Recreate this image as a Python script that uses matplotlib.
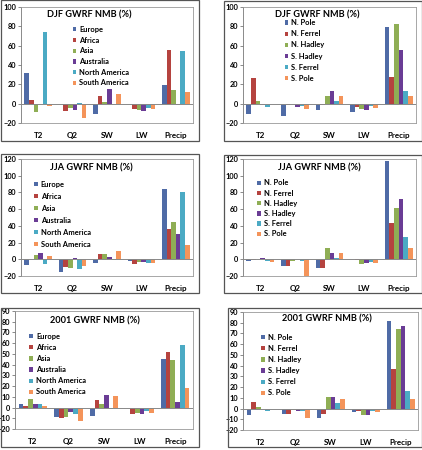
import matplotlib
matplotlib.use("Agg")
import matplotlib.pyplot as plt
import numpy as np
from matplotlib.patches import Rectangle

plt.rcParams['font.family'] = ['Lato', 'DejaVu Sans']
plt.rcParams['font.weight'] = 'bold'

categories = ['T2', 'Q2', 'SW', 'LW', 'Precip']
regions = ['Europe', 'Africa', 'Asia', 'Australia', 'North America', 'South America']
cells = ['N. Pole', 'N. Ferrel', 'N. Hadley', 'S. Hadley', 'S. Ferrel', 'S. Pole']

# one row per series, values over categories
djf_regions = [[32, 0, -11, 0, 19],
               [4, -8, 8, -5, 56],
               [-9, -4, 2, -7, 14],
               [0, -7, 15, -8, -1],
               [74, 1, 0, -4, 54],
               [-2, -15, 10, -5, 12]]
djf_cells = [[-11, -13, -7, -9, 79],
             [27, -1, -1, -3, 28],
             [3, 0, 8, -5, 82],
             [-1, -3, 13, -7, 56],
             [-3, -2, 3, -2, 13],
             [0, -5, 8, -4, 8]]
jja_regions = [[-7, -15, -5, -2, 84],
               [0, -9, 6, -6, 36],
               [5, -10, 6, -3, 45],
               [7, 1, 3, -3, 30],
               [-6, -12, -1, -4, 81],
               [4, -8, 10, -5, 17]]
jja_cells = [[-2, -8, -10, 0, 118],
             [-1, -8, -10, -1, 44],
             [0, -2, 13, -6, 61],
             [2, 0, 7, -5, 72],
             [-2, -2, 1, -3, 27],
             [-3, -20, 8, -4, 14]]
y2001_regions = [[3, -9, -8, 0, 45],
                 [1, -10, 7, -6, 52],
                 [8, -9, 3, -5, 44],
                 [3, -4, 12, -6, 5],
                 [3, -6, -1, -3, 58],
                 [1, -13, 11, -5, 18]]
y2001_cells = [[-6, -5, -9, -3, 82],
               [6, -5, -5, -2, 37],
               [1, -1, 11, -6, 74],
               [0, -2, 11, -6, 77],
               [-2, -2, 5, -2, 16],
               [0, -9, 9, -3, 9]]

colors = ['#4F6BA6', '#B5433F', '#8FAE55', '#6A3C95', '#4BAAC4', '#F4945A']

W, H = 422, 450
fig = plt.figure(figsize=(W / 100, H / 100), dpi=100)


def frame(x0, y0, x1, y1):
    fig.add_artist(Rectangle((x0 / W, 1 - y1 / H), (x1 - x0) / W, (y1 - y0) / H,
                             transform=fig.transFigure, fill=False,
                             edgecolor='#555555', lw=0.9))


def panel(box, title, tpos, names, data, ylim, step, leg, spacing):
    l, t, r, b = box
    ax = fig.add_axes([l / W, 1 - b / H, (r - l) / W, (b - t) / H])
    x = np.arange(len(categories))
    w = 0.8 / len(names)
    for i, (name, vals) in enumerate(zip(names, data)):
        ax.bar(x + (i - 2.5) * w, vals, w, color=colors[i], label=name, zorder=2)
    ax.axhline(0, color='#888888', lw=0.7, zorder=3)
    ax.set_xlim(-0.5, len(categories) - 0.5)
    ax.set_ylim(*ylim)
    ax.set_yticks(np.arange(ylim[0], ylim[1] + 1, step))
    ax.set_xticks(x, categories)
    ax.tick_params(axis='x', length=0, pad=6.5, labelsize=5.8)
    ax.tick_params(axis='y', length=2, width=0.6, pad=1.2, labelsize=5.3,
                   color='#777777')
    for s in ax.spines.values():
        s.set_color('#999999')
        s.set_linewidth(0.6)
    ax.spines['left'].set_color('#777777')
    ax.text(tpos[0], tpos[1], title, transform=ax.transAxes, ha='center',
            va='center', fontsize=6.6, fontweight='bold')
    ax.legend(loc='upper left', bbox_to_anchor=leg, frameon=False,
              fontsize=5.4, handlelength=0.5, handleheight=0.5,
              handletextpad=0.4, labelspacing=spacing, borderpad=0,
              borderaxespad=0)
    return ax


frame(0.5, 0.5, 199, 141)
frame(224, 1, 421.5, 141)
frame(0.5, 154, 199, 293)
frame(224, 155, 421.5, 293)
frame(0.5, 308, 199, 447)
frame(228, 308, 421.5, 447)

panel((21, 7, 193, 123), 'DJF GWRF NMB (%)', (0.40, 0.93), regions,
      djf_regions, (-20, 100), 20, (0.30, 0.836), 0.49)
panel((243, 7, 416, 123), 'DJF GWRF NMB (%)', (0.43, 0.935), cells,
      djf_cells, (-20, 100), 20, (0.24, 0.895), 0.55)
panel((21, 159, 193, 276), 'JJA GWRF NMB (%)', (0.41, 0.92), regions,
      jja_regions, (-20, 120), 20, (0.075, 0.816), 0.67)
panel((243, 159, 416, 276), 'JJA GWRF NMB (%)', (0.44, 0.92), cells,
      jja_cells, (-20, 120), 20, (0.08, 0.826), 0.43)
panel((15, 311, 193, 429), '2001 GWRF NMB (%)', (0.45, 0.915), regions,
      y2001_regions, (-20, 90), 10, (0.08, 0.815), 0.55)
panel((243, 312, 418, 430), '2001 GWRF NMB (%)', (0.48, 0.94), cells,
      y2001_cells, (-20, 90), 10, (0.105, 0.815), 0.55)

fig.savefig('out.png', dpi=100)
